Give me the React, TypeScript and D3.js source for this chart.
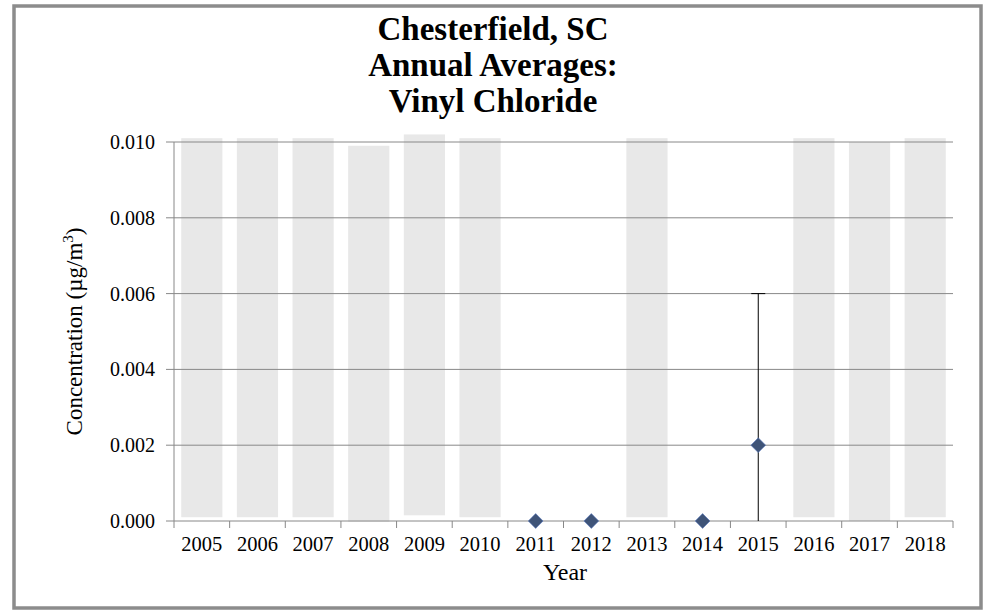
import * as d3 from 'd3';
import React from 'react';

const years = ['2005', '2006', '2007', '2008', '2009', '2010', '2011', '2012', '2013', '2014', '2015', '2016', '2017', '2018'];
// grey background bars (non-detect years): [bottom, top]
const barBottoms = [0.0001, 0.0001, 0.0001, -0.00002, 0.00015, 0.0001, null, null, 0.0001, null, null, 0.0001, 0, 0.0001];
const barTops = [0.0101, 0.0101, 0.0101, 0.0099, 0.0102, 0.0101, null, null, 0.0101, null, null, 0.0101, 0.01, 0.0101];
const averages = [null, null, null, null, null, null, 0, 0, null, 0, 0.002, null, null, null];
const errLow = [null, null, null, null, null, null, null, null, null, null, 0, null, null, null];
const errHigh = [null, null, null, null, null, null, null, null, null, null, 0.006, null, null, null];
const yTicks = [0, 0.002, 0.004, 0.006, 0.008, 0.01];

export default function App() {
  const W = 989, H = 611;
  const left = 174, right = 953, top = 142, bottom = 521;
  const x = d3.scaleBand().domain(years).range([left, right]).paddingInner(0.26).paddingOuter(0.13);
  const xc = d3.scaleBand().domain(years).range([left, right]);
  const y = d3.scaleLinear().domain([0, 0.01]).range([bottom, top]);
  const font = '"Liberation Serif", "Times New Roman", serif';
  const diamond = d3.symbol().type(d3.symbolDiamond2).size(140)() as string;
  const cx = (yr: string) => (xc(yr) as number) + xc.bandwidth() / 2;

  return (
    <svg width={W} height={H} style={{ position: 'absolute', left: 0, top: 0, background: '#fff' }} fontFamily={font}>
      <rect x={14} y={6} width={967} height={602} fill="#fff" stroke="#8c8c8c" strokeWidth={3.5} />
      <g fontWeight="bold" fontSize={33} textAnchor="middle" fill="#000">
        <text x={493} y={40}>Chesterfield, SC</text>
        <text x={493} y={76}>Annual Averages:</text>
        <text x={493} y={112}>Vinyl Chloride</text>
      </g>
      {years.map((yr, i) =>
        barTops[i] != null ? (
          <rect key={yr} x={x(yr)} y={y(barTops[i] as number)} width={x.bandwidth()}
            height={y(barBottoms[i] as number) - y(barTops[i] as number)} fill="#e8e8e8" />
        ) : null
      )}
      {yTicks.map(t => (
        <g key={t}>
          <line x1={left - 8} x2={right} y1={y(t)} y2={y(t)} stroke="#888" strokeWidth={1} />
          <text x={left - 19} y={y(t) + 7} textAnchor="end" fontSize={20}>{d3.format('.3f')(t)}</text>
        </g>
      ))}
      <line x1={left} x2={left} y1={top} y2={bottom} stroke="#888" />
      {d3.range(years.length + 1).map(i => {
        const px = left + i * xc.step();
        return <line key={i} x1={px} x2={px} y1={bottom} y2={bottom + 7} stroke="#888" />;
      })}
      {years.map(yr => (
        <text key={yr} x={cx(yr)} y={bottom + 30} textAnchor="middle" fontSize={20.5}>{yr}</text>
      ))}
      {years.map((yr, i) =>
        errHigh[i] != null ? (
          <g key={yr}>
            <line x1={cx(yr)} x2={cx(yr)} y1={y(errLow[i] as number)} y2={y(errHigh[i] as number)} stroke="#000" />
            <line x1={cx(yr) - 7} x2={cx(yr) + 7} y1={y(errHigh[i] as number)} y2={y(errHigh[i] as number)} stroke="#000" />
          </g>
        ) : null
      )}
      {years.map((yr, i) =>
        averages[i] != null ? (
          <path key={yr} d={diamond} transform={`translate(${cx(yr)},${y(averages[i] as number)})`}
            fill="#3f5478" stroke="#5b7bbf" strokeWidth={0.6} />
        ) : null
      )}
      <text x={565} y={580} textAnchor="middle" fontSize={24}>Year</text>
      <text transform={`translate(82,${(top + bottom) / 2}) rotate(-90)`} textAnchor="middle" fontSize={23}>
        Concentration (µg/m<tspan dy={-9} fontSize={15}>3</tspan><tspan dy={9}>)</tspan>
      </text>
    </svg>
  );
}
